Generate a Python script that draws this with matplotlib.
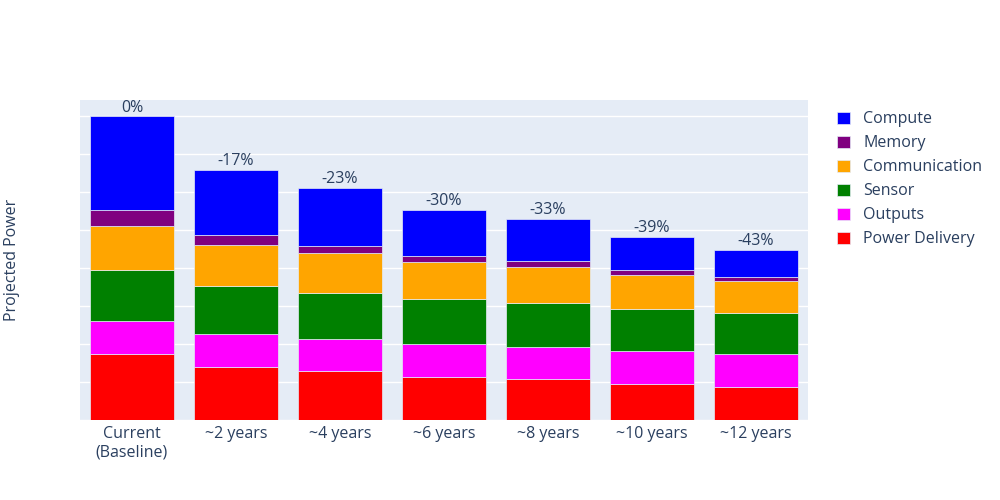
import matplotlib
matplotlib.use("Agg")
import matplotlib.pyplot as plt
from matplotlib.patches import Patch
import numpy as np

plt.rcParams['font.family'] = ['Open Sans', 'DejaVu Sans']

categories = ["Current\n(Baseline)", "~2 years", "~4 years", "~6 years", "~8 years", "~10 years", "~12 years"]
power_delivery = [1.74, 1.40, 1.29, 1.13, 1.07, 0.95, 0.87]
outputs        = [0.87, 0.87, 0.85, 0.88, 0.85, 0.87, 0.87]
sensor         = [1.34, 1.26, 1.20, 1.16, 1.16, 1.11, 1.08]
communication  = [1.16, 1.08, 1.05, 0.97, 0.95, 0.89, 0.84]
memory         = [0.42, 0.24, 0.18, 0.16, 0.16, 0.13, 0.11]
compute        = [2.45, 1.72, 1.53, 1.22, 1.09, 0.87, 0.71]
change_labels  = ["0%", "-17%", "-23%", "-30%", "-33%", "-39%", "-43%"]

series = [
    ("Power Delivery", power_delivery, "red"),
    ("Outputs", outputs, "magenta"),
    ("Sensor", sensor, "green"),
    ("Communication", communication, "orange"),
    ("Memory", memory, "purple"),
    ("Compute", compute, "blue"),
]

text_color = "#2a3f5f"
bg = "#E5ECF6"

fig = plt.figure(figsize=(10, 5), dpi=100)
ax = fig.add_axes([0.08, 0.16, 0.728, 0.64])
ax.set_facecolor(bg)
x = np.arange(len(categories))
bottom = np.zeros(len(categories))
for name, vals, col in series:
    v = np.array(vals)
    ax.bar(x, v, 0.8, bottom=bottom, color=col, edgecolor=bg, linewidth=0.5, label=name, zorder=3)
    bottom += v

for xi, top, lab in zip(x, bottom, change_labels):
    ax.annotate(lab, (xi, top), xytext=(0, 0.5), textcoords="offset points",
                ha="center", va="bottom", fontsize=11.5, color=text_color, zorder=4)

ax.set_xlim(-0.5, len(categories) - 0.5)
ax.set_ylim(0, 8.41)
ax.set_yticks(np.arange(0, 9, 1))
ax.set_yticklabels([])
ax.tick_params(axis="y", length=0)
ax.tick_params(axis="x", length=0, pad=4, labelsize=11.5, labelcolor=text_color)
ax.set_xticks(x)
ax.set_xticklabels(categories, linespacing=1.28)
ax.grid(axis="y", color="white", linewidth=1, zorder=0)
for s in ax.spines.values():
    s.set_visible(False)

fig.text(0.012, 0.48, "Projected Power", rotation=90, ha="center", va="center",
         fontsize=11.5, color=text_color)

handles = [Patch(facecolor=c, edgecolor=bg, linewidth=0.5, label=n) for n, _, c in series][::-1]
leg = fig.legend(handles=handles, loc="upper left", bbox_to_anchor=(0.8305, 0.79),
                 frameon=False, fontsize=11.5, handlelength=0.8, handleheight=0.8,
                 handletextpad=0.85, labelspacing=0.5, borderaxespad=0)
for t in leg.get_texts():
    t.set_color(text_color)

fig.savefig("out.png", dpi=100, facecolor="white")
